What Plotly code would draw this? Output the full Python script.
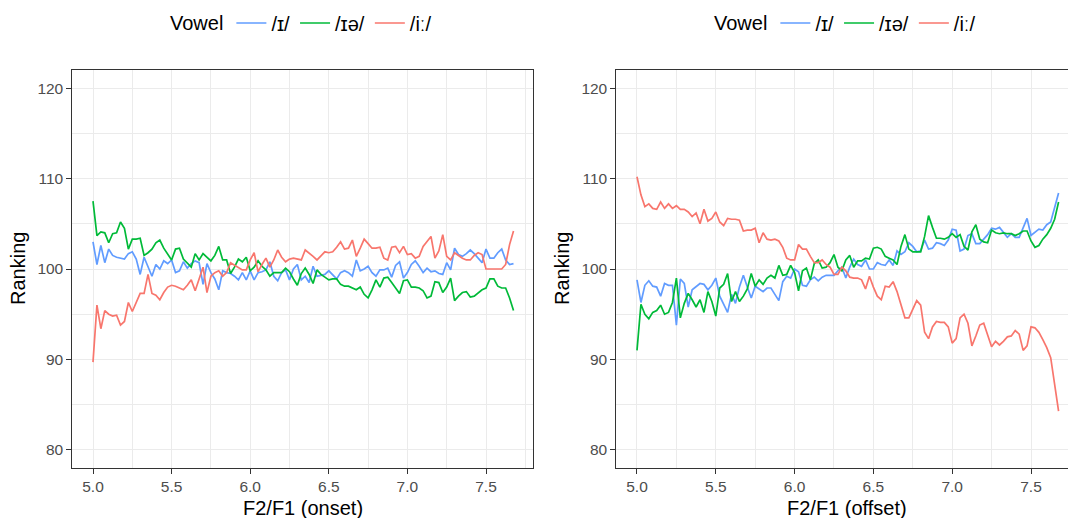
import numpy as np
import plotly.graph_objects as go

# F2/F1 sampling grid (step 0.025 from 5.0)
n_points = 108
f2f1 = np.round(5.0 + 0.025 * np.arange(n_points), 3)

vowels = ["/ɪ/", "/ɪə/", "/iː/"]
colors = ["#619CFF", "#00BA38", "#F8766D"]

# Ranking by F2/F1 at vowel onset
onset_i = [103.0, 100.5, 102.6, 100.7, 102.2, 101.5, 101.3, 101.2, 101.1, 101.7, 101.9, 101.1, 99.4, 101.3,
           100.2, 99.2, 100.5, 100.0, 100.9, 100.6, 101.0, 99.6, 99.8, 100.8, 100.1, 100.6, 100.9, 100.7,
           98.3, 100.6, 99.6, 98.9, 97.7, 99.8, 99.6, 99.5, 99.2, 98.8, 99.6, 98.8, 99.8, 98.8, 99.6, 99.7,
           99.9, 100.8, 99.2, 98.7, 99.6, 99.9, 98.8, 100.0, 100.5, 98.8, 99.2, 98.5,
           100.3, 99.2, 99.3, 99.4, 99.8, 99.3, 98.9, 99.6, 99.8, 99.6, 99.2, 101.0, 99.8, 100.0, 100.3,
           99.6, 99.2, 99.9, 99.9, 100.1, 99.1, 100.4, 100.8, 99.0, 99.6, 100.5, 100.9, 100.3, 99.6, 100.1,
           99.7, 99.8, 99.5, 99.4, 100.7, 99.9, 102.3, 101.6, 101.4, 101.7, 102.1, 101.7, 101.2, 100.7,
           102.2, 101.2, 101.2, 101.8, 102.2, 101.0, 100.5, 100.6]
onset_ie = [107.5, 103.7, 104.1, 104.0, 102.9, 103.9, 104.0, 105.2, 104.5, 102.2, 103.3, 103.3, 103.4,
            101.5, 101.8, 102.2, 102.9, 103.2, 102.3, 101.6, 101.0, 102.2, 102.3, 101.1, 100.6, 100.2,
            101.7, 101.0, 101.7, 101.3, 100.9, 101.5, 102.5, 101.0, 101.0, 99.5, 100.2, 101.1, 100.8,
            101.3, 99.8, 100.2, 100.9, 100.3, 99.9, 99.2, 99.6, 99.6, 99.6, 100.1, 99.7, 98.9, 98.2, 99.5,
            100.1, 99.4,
            98.4, 99.9, 99.4, 99.1, 98.8, 98.9, 98.9, 98.3, 98.1, 98.1, 97.9, 97.7, 98.0, 97.2, 96.8, 97.7,
            98.8, 98.0, 99.0, 99.1, 98.5, 97.9, 97.3, 98.7, 98.8, 98.0, 98.0, 97.9, 97.6, 96.8, 97.0, 98.6,
            98.5, 97.4, 98.0, 99.0, 96.5, 97.0, 97.4, 97.5, 96.9, 97.0, 97.3, 97.7, 97.9, 98.9, 98.9, 98.1,
            97.9, 97.9, 96.8, 95.4]
onset_ii = [89.7, 96.0, 93.4, 95.4, 95.0, 94.8, 94.9, 93.8, 94.2, 96.3, 95.3, 96.3, 97.3, 97.3, 99.4,
            97.3, 97.1, 96.6, 97.4, 98.0, 98.2, 98.1, 97.9, 97.7, 98.2, 98.8, 97.6, 98.8, 100.2, 97.4,
            99.2, 99.6, 99.8, 99.2, 99.6, 100.7, 100.4, 100.1, 99.9, 99.9, 101.0, 101.8, 99.7, 100.5,
            101.2, 100.2, 101.0, 102.1, 101.3, 100.8, 101.1, 101.2, 101.1, 101.0, 102.1, 101.8,
            101.4, 101.0, 101.5, 101.9, 101.8, 101.9, 102.4, 103.0, 102.2, 102.3, 103.2, 101.4, 102.3,
            103.3, 102.8, 102.3, 102.3, 102.4, 101.2, 101.0, 102.4, 102.5, 101.8, 102.5, 101.6, 101.7,
            101.2, 101.4, 102.5, 103.0, 103.6, 101.2, 102.0, 103.8, 101.4, 101.0, 101.8, 101.5, 101.2,
            101.0, 101.0, 101.5, 101.8, 101.6, 100.0, 100.0, 100.0, 100.0, 100.0, 100.5, 102.7, 104.2]

# Ranking by F2/F1 at vowel offset
offset_i = [98.8, 96.3, 98.2, 98.7, 98.1, 98.0, 97.0, 98.4, 98.2, 98.2, 93.8, 98.9, 98.4, 95.8, 97.7,
            98.0, 98.4, 98.3, 97.7, 98.2, 99.0, 97.0, 96.0, 95.2, 97.2, 96.2, 98.0, 99.3, 98.0, 96.8,
            98.1, 97.8, 97.5, 97.9, 97.9, 97.2, 96.5, 98.6, 99.2, 99.0, 100.0, 99.7, 98.2, 98.1, 98.8,
            99.1, 98.7, 99.1, 99.3, 99.3, 99.3, 99.8, 100.2, 99.0, 100.2, 101.1, 100.5,
            100.3, 101.0, 100.0, 100.0, 100.7, 100.5, 100.4, 101.0, 100.4, 102.0, 101.6, 101.9, 102.9,
            102.5, 101.9, 102.0, 103.2, 102.2, 102.3, 102.9, 102.8, 102.6, 103.2, 104.4, 104.3, 102.0,
            102.2, 103.7, 103.9, 102.8, 102.8, 103.3, 103.8, 104.5, 104.4, 104.6, 104.0, 103.5, 103.9,
            103.5, 103.5, 104.6, 105.6, 103.7, 104.1, 104.4, 104.3, 104.9, 105.2, 106.8, 108.4]
offset_ie = [91.0, 96.1, 95.0, 94.5, 95.2, 95.4, 96.0, 95.0, 95.2, 96.3, 99.0, 94.6, 96.2, 97.3, 96.6,
             95.8, 96.6, 95.2, 97.5, 96.4, 94.8, 97.9, 98.3, 99.5, 96.4, 97.5, 96.4, 97.0, 97.8, 99.5,
             98.1, 98.8, 98.3, 99.0, 99.3, 99.0, 100.4, 99.3, 99.4, 100.4, 99.6, 97.6, 99.8, 100.1,
             98.8, 100.6, 101.0, 100.1, 100.2, 100.7, 101.6, 100.2, 99.8, 101.0, 101.5, 100.2, 100.9,
             100.9, 101.2, 101.1, 102.3, 102.4, 102.2, 101.4, 101.2, 101.0, 100.5, 102.5, 103.8, 102.2,
             101.9, 101.9, 101.9, 103.6, 105.9, 104.6, 103.4, 103.4, 103.3, 103.5, 103.9, 103.5, 103.8,
             102.5, 102.1, 104.1, 104.9, 103.3, 103.0, 102.9, 104.3, 104.0, 103.9, 104.0, 103.9, 103.9,
             103.7, 103.9, 104.2, 104.2, 103.1, 102.4, 102.6, 103.3, 103.8, 104.5, 105.5, 107.4]
offset_ii = [110.2, 108.2, 106.9, 107.2, 106.7, 106.6, 107.4, 106.7, 107.2, 106.7, 107.0, 106.6, 106.6,
             106.3, 105.8, 106.2, 105.0, 106.6, 105.3, 105.6, 106.3, 105.2, 104.8, 105.6, 105.5, 105.5,
             105.4, 104.2, 104.3, 104.3, 104.5, 102.9, 104.0, 103.3, 103.2, 103.3, 103.1, 102.4, 101.2,
             101.0, 101.0, 102.7, 102.2, 102.2, 101.4, 100.7, 100.7, 101.0, 100.5, 100.2, 99.4, 99.4,
             100.2, 99.8, 99.1, 99.0, 99.0,
             98.8, 97.8, 99.2, 98.0, 97.0, 96.6, 98.1, 98.0, 98.6, 97.5, 96.0, 94.6, 94.6, 95.6, 96.5,
             96.0, 93.0, 92.3, 93.6, 94.2, 94.1, 94.1, 93.6, 91.8, 92.3, 94.6, 95.0, 94.0, 91.5, 92.6,
             93.8, 94.0, 92.8, 91.4, 92.0, 91.6, 92.0, 92.5, 92.6, 93.2, 92.8, 91.0, 91.5, 93.6, 93.5,
             93.0, 92.2, 91.3, 90.2, 87.3, 84.3]

x_ticks = [5.0, 5.5, 6.0, 6.5, 7.0, 7.5]
y_ticks = [80, 90, 100, 110, 120]

W, H = 1068, 518
ML, MR, MT, MB = 72, 0, 70, 50
PW, PH = W - ML - MR, H - MT - MB


def fx(p):
    return (p - ML) / PW


def fy(p):
    return (H - MB - p) / PH


FONT = "Liberation Sans, Arial, sans-serif"
GRID = "#EBEBEB"
INK = "#333333"

fig = go.Figure()

panels = [
    ("x", "y", "legend", [onset_i, onset_ie, onset_ii]),
    ("x2", "y2", "legend2", [offset_i, offset_ie, offset_ii]),
]
for xa, ya, lg, series in panels:
    for name, col, vals in zip(vowels, colors, series):
        fig.add_trace(go.Scatter(
            x=f2f1, y=vals, mode="lines", name=name, legend=lg,
            line=dict(color=col, width=1.7), xaxis=xa, yaxis=ya,
        ))

axis_common = dict(
    showgrid=True, gridcolor=GRID, gridwidth=1.3, zeroline=False,
    showline=True, linecolor=INK, linewidth=1.3,
    ticks="outside", ticklen=4.5, tickwidth=1.2, tickcolor=INK,
    tickfont=dict(family=FONT, size=15.5, color="#4D4D4D"),
)

fig.update_layout(
    width=W, height=H, autosize=False,
    margin=dict(l=ML, r=MR, t=MT, b=MB),
    paper_bgcolor="white", plot_bgcolor="white",
    showlegend=True,
    xaxis=dict(domain=[0, fx(533)], range=[4.8664, 7.799], tickvals=x_ticks,
               ticktext=[f"{v:.1f}" for v in x_ticks], mirror=True,
               minor=dict(dtick=0.25, tick0=5.0, showgrid=True, gridcolor=GRID, gridwidth=0.7),
               anchor="y", **axis_common),
    yaxis=dict(domain=[0, 1], range=[78, 122], tickvals=y_ticks, mirror=True,
               minor=dict(dtick=5, tick0=80, showgrid=True, gridcolor=GRID, gridwidth=0.7),
               anchor="x", **axis_common),
    xaxis2=dict(domain=[fx(616), 1], range=[4.8668, 7.7348], tickvals=x_ticks,
                ticktext=[f"{v:.1f}" for v in x_ticks], mirror=True,
                minor=dict(dtick=0.25, tick0=5.0, showgrid=True, gridcolor=GRID, gridwidth=0.7),
                anchor="y2", **axis_common),
    yaxis2=dict(domain=[0, 1], range=[78, 122], tickvals=y_ticks, mirror=False,
                minor=dict(dtick=5, tick0=80, showgrid=True, gridcolor=GRID, gridwidth=0.7),
                anchor="x2", **axis_common),
)

legend_style = dict(
    orientation="h", xanchor="center", yanchor="middle", y=fy(23),
    bgcolor="rgba(0,0,0,0)", font=dict(family=FONT, size=20, color="black"),
    title=dict(text="Vowel", side="left", font=dict(family=FONT, size=20, color="black")),
    itemclick=False, itemdoubleclick=False,
)
fig.update_layout(
    legend=dict(x=fx(302.5), **legend_style),
    legend2=dict(x=fx(846.5), **legend_style),
)

title_font = dict(family=FONT, size=20, color="black")
annotations = [
    dict(text="F2/F1 (onset)", x=fx(302.5), y=fy(508)),
    dict(text="F2/F1 (offset)", x=fx(846.5), y=fy(508)),
    dict(text="Ranking", x=fx(18), y=fy(269), textangle=-90),
    dict(text="Ranking", x=fx(562), y=fy(269), textangle=-90),
]
for a in annotations:
    fig.add_annotation(xref="paper", yref="paper", showarrow=False,
                       xanchor="center", yanchor="middle", font=title_font, **a)

fig.write_html("out.html")
